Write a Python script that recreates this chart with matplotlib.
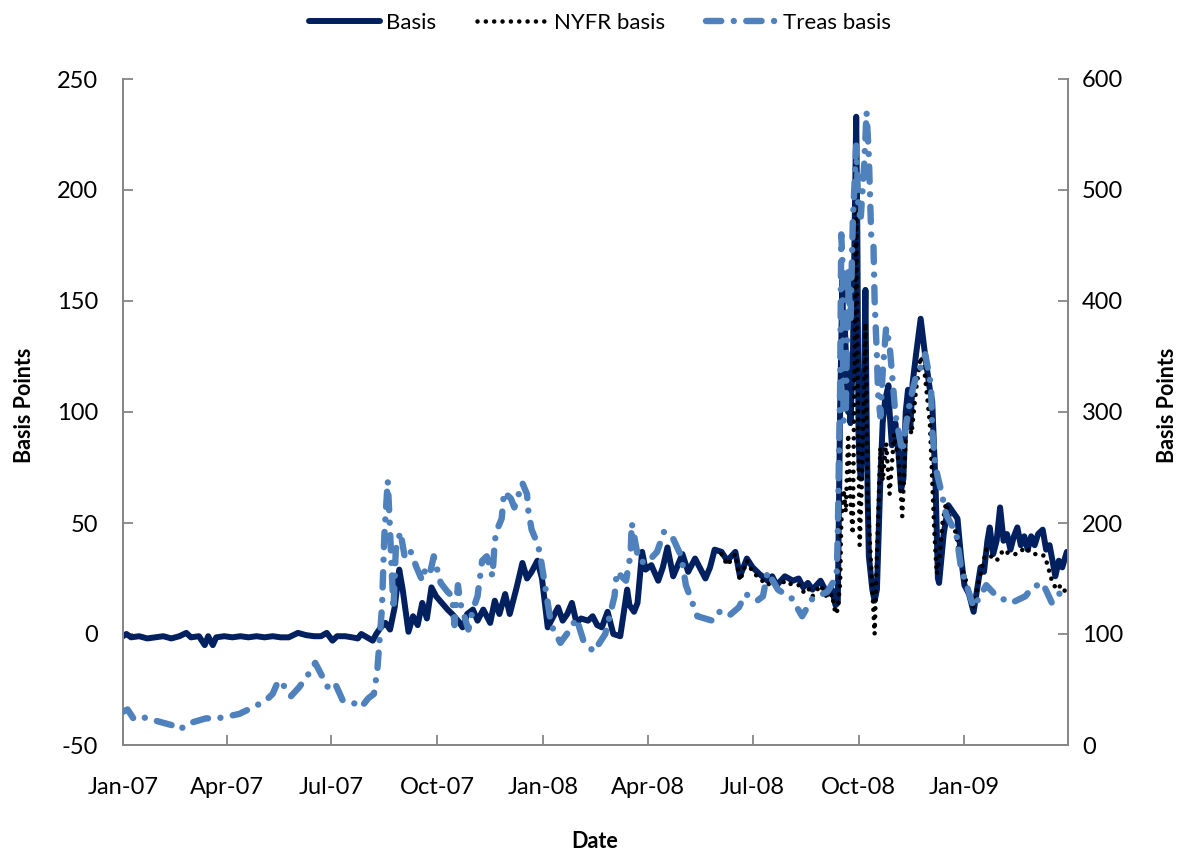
import matplotlib
matplotlib.use("Agg")
import matplotlib.pyplot as plt
import matplotlib.dates as mdates
import pandas as pd

plt.rcParams['font.family'] = ['Lato', 'DejaVu Sans']
plt.rcParams['lines.scale_dashes'] = False
plt.rcParams['axes.unicode_minus'] = False

# ---------------- data ----------------
basis_dates = [
    "2007-01-01", "2007-01-04", "2007-01-08", "2007-01-15", "2007-01-22", "2007-01-29",
    "2007-02-05", "2007-02-12", "2007-02-19", "2007-02-25", "2007-03-01", "2007-03-08",
    "2007-03-13", "2007-03-16", "2007-03-20", "2007-03-23", "2007-03-30", "2007-04-06",
    "2007-04-13", "2007-04-20", "2007-04-27", "2007-05-04", "2007-05-11", "2007-05-18",
    "2007-05-25", "2007-06-02", "2007-06-09", "2007-06-16", "2007-06-22", "2007-06-27",
    "2007-07-02", "2007-07-06", "2007-07-13", "2007-07-19", "2007-07-24", "2007-07-27",
    "2007-08-01", "2007-08-06", "2007-08-09", "2007-08-13", "2007-08-17", "2007-08-21",
    "2007-08-25", "2007-08-29", "2007-09-01", "2007-09-06", "2007-09-10", "2007-09-14",
    "2007-09-18", "2007-09-22", "2007-09-26", "2007-09-30", "2007-10-05", "2007-10-10",
    "2007-10-14", "2007-10-19", "2007-10-23", "2007-10-27", "2007-11-01", "2007-11-05",
    "2007-11-10", "2007-11-16", "2007-11-20", "2007-11-24", "2007-11-29", "2007-12-03",
    "2007-12-09", "2007-12-14", "2007-12-18", "2007-12-22", "2007-12-27", "2007-12-31",
    "2008-01-05", "2008-01-10", "2008-01-14", "2008-01-18", "2008-01-22", "2008-01-26",
    "2008-01-30", "2008-02-03", "2008-02-09", "2008-02-13", "2008-02-17", "2008-02-21",
    "2008-02-26", "2008-03-02", "2008-03-08", "2008-03-14", "2008-03-16", "2008-03-20",
    "2008-03-23", "2008-03-27", "2008-03-30", "2008-04-04", "2008-04-10", "2008-04-14",
    "2008-04-18", "2008-04-23", "2008-04-27", "2008-05-01", "2008-05-06", "2008-05-12",
    "2008-05-16", "2008-05-21", "2008-05-25", "2008-05-29", "2008-06-04", "2008-06-09",
    "2008-06-16", "2008-06-20", "2008-06-26", "2008-07-01", "2008-07-07", "2008-07-14",
    "2008-07-18", "2008-07-22", "2008-07-29", "2008-08-05", "2008-08-10", "2008-08-14",
    "2008-08-18", "2008-08-22", "2008-08-29", "2008-09-04", "2008-09-08", "2008-09-11",
    "2008-09-13", "2008-09-15", "2008-09-17", "2008-09-18", "2008-09-19", "2008-09-22",
    "2008-09-23", "2008-09-24", "2008-09-25", "2008-09-26", "2008-09-29", "2008-09-30",
    "2008-10-01", "2008-10-02", "2008-10-03", "2008-10-06", "2008-10-07", "2008-10-08",
    "2008-10-09", "2008-10-10", "2008-10-13", "2008-10-15", "2008-10-17", "2008-10-20",
    "2008-10-22", "2008-10-24", "2008-10-27", "2008-10-28", "2008-10-30", "2008-11-02",
    "2008-11-05", "2008-11-07", "2008-11-09", "2008-11-11", "2008-11-13", "2008-11-15",
    "2008-11-17", "2008-11-20", "2008-11-24", "2008-11-28", "2008-12-02", "2008-12-04",
    "2008-12-07", "2008-12-09", "2008-12-10", "2008-12-14", "2008-12-18", "2008-12-22",
    "2008-12-26", "2008-12-29", "2009-01-01", "2009-01-05", "2009-01-09", "2009-01-12",
    "2009-01-15", "2009-01-18", "2009-01-21", "2009-01-23", "2009-01-26", "2009-01-29",
    "2009-02-01", "2009-02-04", "2009-02-07", "2009-02-10", "2009-02-13", "2009-02-16",
    "2009-02-19", "2009-02-22", "2009-02-25", "2009-02-28", "2009-03-03", "2009-03-06",
    "2009-03-10", "2009-03-13", "2009-03-16", "2009-03-21", "2009-03-24", "2009-03-27",
    "2009-03-31",
]
basis_values = [
    -1, 0, -1.5, -1, -2, -1.5,
    -1, -2, -1, 0.5, -1.5, -1,
    -5, -1, -5, -1.5, -1, -1.5,
    -1, -1.5, -1, -1.5, -1, -1.5,
    -1.5, 0.5, -0.5, -1, -1, 0.5,
    -3, -1, -1, -1.5, -2, 0,
    -1.5, -3, 0, 3, 5, 2,
    12, 29, 20, 1, 8, 4,
    14, 7, 21, 17, 14, 11,
    9, 6, 3, 9, 11, 6,
    11, 5, 15, 9, 18, 9,
    21, 32, 25, 28, 33, 25,
    3, 8, 12, 6, 9, 14,
    5, 7, 6, 8, 4, 3,
    10, 0, -1, 20, 13, 10,
    14, 37, 29, 31, 24, 30,
    39, 26, 31, 36, 28, 34,
    30, 25, 30, 38, 37, 33,
    37, 26, 34, 30, 27, 24,
    26, 22, 26, 24, 25, 21,
    23, 20, 24, 18, 20, 13,
    14, 100, 160, 120, 140, 100,
    125, 95, 110, 120, 233, 180,
    90, 75, 70, 120, 155, 100,
    60, 35, 20, 15, 20, 70,
    95, 105, 112, 100, 85, 95,
    80, 65, 70, 100, 110, 93,
    113, 126, 142, 125, 110, 105,
    66, 25, 23, 45, 58, 55,
    52, 35, 22, 18, 10, 20,
    30, 28, 42, 48, 36, 42,
    57, 42, 45, 38, 44, 48,
    40, 44, 38, 44, 40, 45,
    47, 38, 40, 26, 33, 30,
    37,
]

nyfr_dates = [
    "2008-06-04", "2008-06-09", "2008-06-16", "2008-06-20", "2008-06-26", "2008-07-01",
    "2008-07-07", "2008-07-14", "2008-07-18", "2008-07-22", "2008-07-29", "2008-08-05",
    "2008-08-10", "2008-08-14", "2008-08-18", "2008-08-22", "2008-08-29", "2008-09-04",
    "2008-09-08", "2008-09-11", "2008-09-13", "2008-09-15", "2008-09-16", "2008-09-18",
    "2008-09-20", "2008-09-22", "2008-09-24", "2008-09-26", "2008-09-29", "2008-09-30",
    "2008-10-01", "2008-10-02", "2008-10-04", "2008-10-07", "2008-10-09", "2008-10-12",
    "2008-10-15", "2008-10-17", "2008-10-20", "2008-10-22", "2008-10-25", "2008-10-28",
    "2008-11-01", "2008-11-05", "2008-11-08", "2008-11-12", "2008-11-16", "2008-11-20",
    "2008-11-24", "2008-11-27", "2008-12-02", "2008-12-06", "2008-12-08", "2008-12-10",
    "2008-12-13", "2008-12-16", "2008-12-20", "2008-12-25", "2008-12-28", "2009-01-03",
    "2009-01-08", "2009-01-14", "2009-01-20", "2009-01-24", "2009-01-29", "2009-02-04",
    "2009-02-09", "2009-02-16", "2009-02-23", "2009-03-01", "2009-03-08", "2009-03-12",
    "2009-03-18", "2009-03-22", "2009-03-26", "2009-03-31",
]
nyfr_values = [
    36, 31, 36, 24, 33, 28,
    25, 22, 24, 20, 24, 22,
    22, 19, 21, 17, 22, 16,
    18, 9, 11, 23, 50, 65,
    55, 90, 60, 45, 192, 130,
    84, 40, 70, 140, 60, 30,
    0, 35, 84, 69, 86, 63,
    90, 77, 53, 100, 90, 110,
    125, 120, 95, 45, 27, 33,
    50, 59, 51, 45, 32, 23,
    11, 25, 38, 35, 33, 38,
    36, 36, 39, 36, 36, 35,
    24, 20, 22, 18,
]

treas_dates = [
    "2007-01-01", "2007-01-05", "2007-01-10", "2007-01-15", "2007-01-29", "2007-02-12",
    "2007-02-17", "2007-02-20", "2007-02-24", "2007-03-01", "2007-03-14", "2007-03-24",
    "2007-04-03", "2007-04-12", "2007-04-24", "2007-05-05", "2007-05-11", "2007-05-16",
    "2007-05-22", "2007-05-27", "2007-06-03", "2007-06-10", "2007-06-17", "2007-06-24",
    "2007-06-28", "2007-07-04", "2007-07-11", "2007-07-20", "2007-07-27", "2007-08-02",
    "2007-08-07", "2007-08-10", "2007-08-14", "2007-08-16", "2007-08-19", "2007-08-21",
    "2007-08-22", "2007-08-24", "2007-08-26", "2007-08-30", "2007-09-03", "2007-09-08",
    "2007-09-13", "2007-09-18", "2007-09-21", "2007-09-25", "2007-09-28", "2007-10-04",
    "2007-10-10", "2007-10-14", "2007-10-16", "2007-10-19", "2007-10-21", "2007-10-24",
    "2007-10-28", "2007-11-01", "2007-11-05", "2007-11-09", "2007-11-13", "2007-11-18",
    "2007-11-20", "2007-11-22", "2007-11-26", "2007-11-28", "2007-12-04", "2007-12-07",
    "2007-12-14", "2007-12-18", "2007-12-19", "2007-12-22", "2007-12-26", "2007-12-29",
    "2008-01-02", "2008-01-08", "2008-01-16", "2008-01-23", "2008-01-30", "2008-02-05",
    "2008-02-14", "2008-02-24", "2008-03-03", "2008-03-05", "2008-03-13", "2008-03-17",
    "2008-03-18", "2008-03-24", "2008-03-31", "2008-04-09", "2008-04-15", "2008-04-22",
    "2008-04-30", "2008-05-04", "2008-05-14", "2008-05-27", "2008-06-02", "2008-06-10",
    "2008-06-19", "2008-06-25", "2008-07-05", "2008-07-10", "2008-07-14", "2008-07-23",
    "2008-08-04", "2008-08-13", "2008-08-22", "2008-09-04", "2008-09-12", "2008-09-13",
    "2008-09-14", "2008-09-15", "2008-09-16", "2008-09-17", "2008-09-18", "2008-09-20",
    "2008-09-22", "2008-09-23", "2008-09-24", "2008-09-26", "2008-09-29", "2008-10-01",
    "2008-10-03", "2008-10-06", "2008-10-08", "2008-10-10", "2008-10-12", "2008-10-14",
    "2008-10-15", "2008-10-17", "2008-10-18", "2008-10-20", "2008-10-22", "2008-10-25",
    "2008-10-28", "2008-10-31", "2008-11-02", "2008-11-08", "2008-11-13", "2008-11-17",
    "2008-11-20", "2008-11-24", "2008-11-28", "2008-12-03", "2008-12-04", "2008-12-07",
    "2008-12-12", "2008-12-16", "2008-12-25", "2008-12-29", "2009-01-09", "2009-01-20",
    "2009-01-29", "2009-02-11", "2009-02-23", "2009-03-01", "2009-03-10", "2009-03-18",
    "2009-03-24", "2009-03-31",
]
# Treas basis is read on the right-hand axis (0-600 bp)
treas_values = [
    30, 32, 24, 26, 22, 18,
    16, 14, 18, 20, 24, 24,
    26, 28, 34, 40, 46, 58,
    52, 44, 52, 62, 74, 60,
    52, 56, 40, 38, 34, 42,
    46, 68, 124, 188, 238, 194,
    168, 122, 176, 192, 168, 174,
    160, 148, 160, 156, 170, 146,
    138, 134, 108, 144, 128, 118,
    104, 122, 134, 166, 170, 152,
    184, 194, 204, 228, 222, 214,
    236, 226, 212, 194, 184, 174,
    148, 108, 92, 102, 114, 94,
    84, 100, 134, 156, 148, 172,
    200, 166, 164, 174, 192, 188,
    170, 144, 116, 112, 120, 116,
    124, 136, 130, 134, 156, 140,
    132, 116, 132, 138, 152, 190,
    260, 320, 460, 436, 292, 300,
    430, 400, 380, 470, 540, 480,
    476, 524, 570, 530, 460, 450,
    400, 350, 316, 296, 336, 376,
    360, 324, 298, 264, 300, 320,
    332, 340, 352, 324, 284, 250,
    228, 208, 190, 160, 124, 144,
    134, 128, 134, 142, 146, 128,
    136, 140,
]

tick_dates = ["2007-01-01", "2007-04-01", "2007-07-01", "2007-10-01", "2008-01-01",
              "2008-04-01", "2008-07-01", "2008-10-01", "2009-01-01"]
left_ticks = [-50, 0, 50, 100, 150, 200, 250]
right_ticks = [0, 100, 200, 300, 400, 500, 600]

# ---------------- figure ----------------
NAVY = "#002060"
LIGHT = "#4F81BD"
GRAY = "#868686"

fig = plt.figure(figsize=(11.81, 8.52), dpi=100)
ax = fig.add_axes([123 / 1181, 107 / 852, 945 / 1181, 666 / 852])
ax2 = ax.twinx()

bd = pd.to_datetime(basis_dates)
nd = pd.to_datetime(nyfr_dates)
td = pd.to_datetime(treas_dates)

l1, = ax.plot(bd, basis_values, color=NAVY, lw=4.3, solid_joinstyle='round',
              solid_capstyle='round', label="Basis", zorder=2)
l2, = ax.plot(nd, nyfr_values, color="black", lw=3.3, linestyle=(0, (0.01, 6.0)),
              dash_capstyle='round', label="NYFR basis", zorder=3)
l3, = ax2.plot(td, treas_values, color=LIGHT, lw=4.6, linestyle=(0, (11, 9, 0.01, 9)),
               dash_capstyle='round', label="Treas basis", zorder=4)

ax.set_xlim(pd.Timestamp("2007-01-01"), pd.Timestamp("2009-04-01"))
ax.set_ylim(-50, 250)
ax2.set_ylim(0, 600)
ax.set_yticks(left_ticks)
ax2.set_yticks(right_ticks)
ax.set_xticks(pd.to_datetime(tick_dates))
ax.xaxis.set_major_formatter(mdates.DateFormatter("%b-%y"))

for a in (ax, ax2):
    a.spines['top'].set_visible(False)
    for s in ('left', 'right', 'bottom'):
        a.spines[s].set_color(GRAY)
        a.spines[s].set_linewidth(1.3)
    a.set_facecolor('none')

ax.tick_params(axis='y', direction='in', length=7, width=1.3, color=GRAY,
               labelsize=17, pad=18)
ax.tick_params(axis='x', direction='in', length=7, width=1.3, color=GRAY,
               labelsize=17, pad=23)
ax2.tick_params(axis='y', direction='in', length=7, width=1.3, color=GRAY,
                labelsize=17, pad=10)

fig.text(25 / 1181, 1 - 405 / 852, "Basis Points", rotation=90, ha='center', va='center',
         fontsize=15.5, fontweight='bold')
fig.text(1168 / 1181, 1 - 405 / 852, "Basis Points", rotation=90, ha='center', va='center',
         fontsize=15.5, fontweight='bold')
fig.text(595 / 1181, 1 - 842 / 852, "Date", ha='center', va='center',
         fontsize=15.5, fontweight='bold')

fig.legend(handles=[l1, l2, l3], loc='center', bbox_to_anchor=(600 / 1181, 1 - 23 / 852),
           ncol=3, frameon=False, fontsize=16, handlelength=3.2, columnspacing=1.8,
           handletextpad=0.3)

fig.savefig("out.png", dpi=100)
